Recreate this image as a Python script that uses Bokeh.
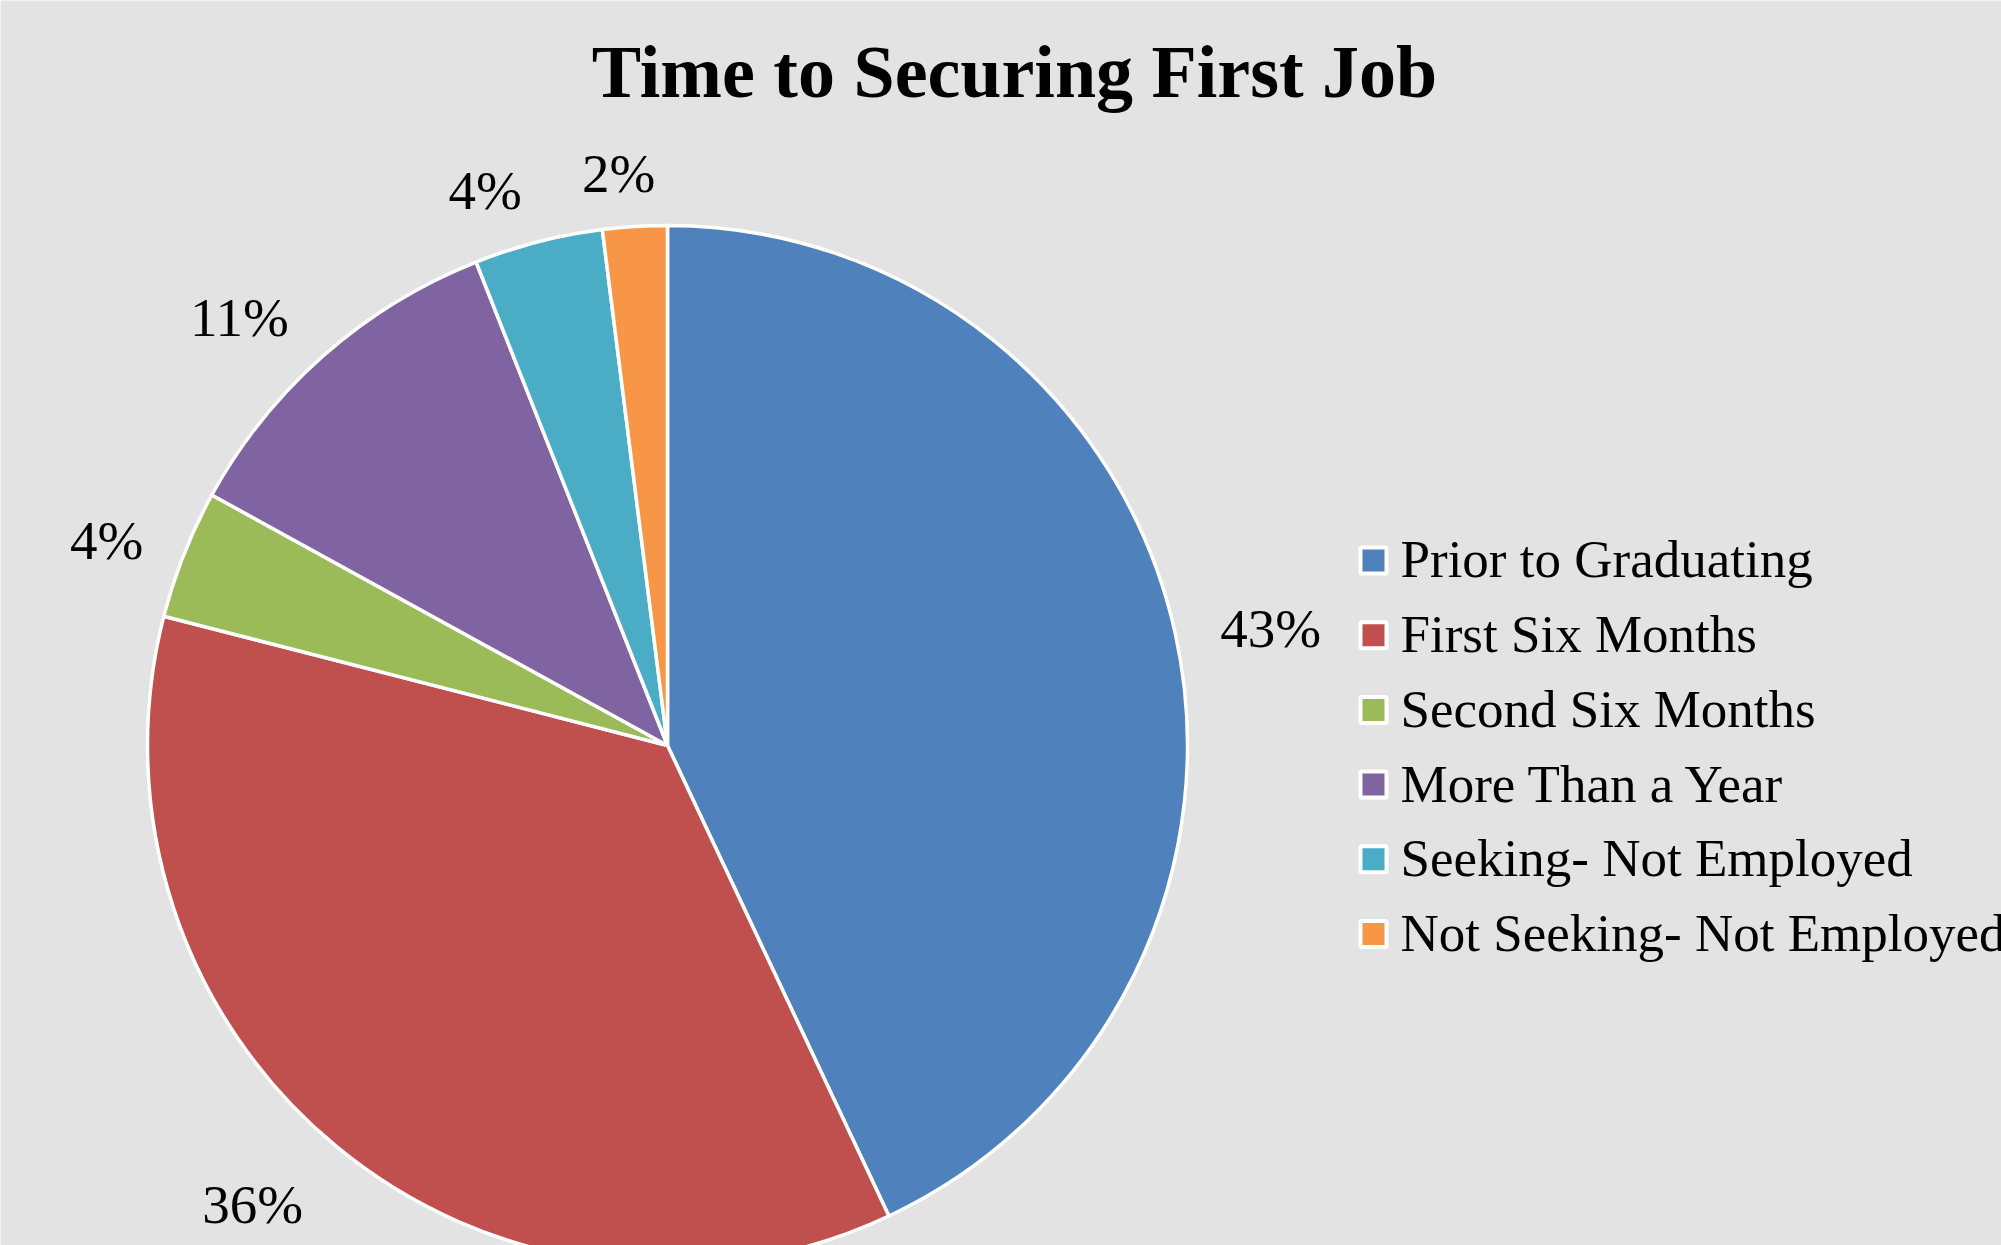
import numpy as np
from bokeh.plotting import figure
from bokeh.models import Range1d, ColumnDataSource
from bokeh.core.properties import value
from bokeh.embed import file_html
from bokeh.resources import INLINE

# ---- data ---------------------------------------------------------------
categories = [
    "Prior to Graduating",
    "First Six Months",
    "Second Six Months",
    "More Than a Year",
    "Seeking- Not Employed",
    "Not Seeking- Not Employed",
]
shares = [43, 36, 4, 11, 4, 2]
colors = ["#4F81BD", "#C0504D", "#9BBB59", "#8064A2", "#4BACC6", "#F79646"]
title_text = "Time to Securing First Job"

# ---- layout (pixels, measured from the top-left corner) -----------------
W, H = 2001, 1245
BG = "#E3E3E3"
FONT = "Liberation Serif"
CX, CY_TOP, RADIUS = 667, 745, 520
LABEL_FS = 55
LEGEND_FS = 53
TITLE_FS = 74
LEGEND_X, LEGEND_Y0, LEGEND_STEP = 1373, 560, 74.7
# the rendered alphabetic baseline lands a little below its anchor;
# lift every text by this fraction of its font size
LIFT = 0.34


def fy(y_top):
    """Convert a top-down pixel row into the upward data axis."""
    return H - y_top


CY = fy(CY_TOP)

vals = np.array(shares, dtype=float)
frac = vals / vals.sum()
cum = np.cumsum(frac)
start = np.pi / 2 - 2 * np.pi * (cum - frac)
end = np.pi / 2 - 2 * np.pi * cum
mid = (start + end) / 2

pie = ColumnDataSource(dict(cat=categories, share=shares, color=colors,
                            start=start, end=end))

p = figure(width=W, height=H, x_range=Range1d(0, W), y_range=Range1d(0, H),
           output_backend="svg", toolbar_location=None, min_border=0,
           x_axis_type=None, y_axis_type=None)
p.grid.visible = False
p.outline_line_color = None
p.background_fill_color = BG
p.border_fill_color = BG

p.wedge(x=CX, y=CY, radius=RADIUS, start_angle="start", end_angle="end",
        direction="clock", fill_color="color", line_color="white",
        line_width=3.5, source=pie)

# ---- percentage labels placed just outside each slice --------------------
labels = [f"{s:d}%" for s in shares]
gap = 36          # clearance between rim and label
drop = 10         # labels sit slightly below their radial spot
lx, ly = [], []
for lab, a in zip(labels, mid):
    ux, uy = np.cos(a), np.sin(a)
    ndig = len(lab) - 1
    half_w = LABEL_FS * (0.5 * ndig + 0.833) / 2
    half_h = LABEL_FS * 0.5
    dx = (RADIUS + gap) * ux + 1.2 * half_w * np.clip(ux / 0.2, -1, 1)
    dy = (RADIUS + gap + half_h) * uy - drop
    lx.append(CX + dx)
    ly.append(CY + dy - 0.338 * LABEL_FS + LIFT * LABEL_FS)

p.text(x=lx, y=ly, text=labels, text_font=value(FONT),
       text_font_size=f"{LABEL_FS}px", text_color="black",
       text_align="center", text_baseline="alphabetic")

# ---- legend ---------------------------------------------------------------
n = len(categories)
rows_y = [fy(LEGEND_Y0 + i * LEGEND_STEP) for i in range(n)]
leg = ColumnDataSource(dict(x=[LEGEND_X] * n, y=rows_y,
                            ty=[y - 17 + LIFT * LEGEND_FS for y in rows_y],
                            tx=[LEGEND_X + 27] * n,
                            cat=categories, color=colors))
p.rect(x="x", y="y", width=26, height=26, width_units="screen",
       height_units="screen", fill_color="color", line_color="white",
       line_width=4, source=leg)
p.text(x="tx", y="ty", text="cat", text_font=value(FONT),
       text_font_size=f"{LEGEND_FS}px", text_color="black",
       text_align="left", text_baseline="alphabetic", source=leg)

# ---- title ------------------------------------------------------------------
p.text(x=[1014], y=[fy(97) + LIFT * TITLE_FS], text=[title_text],
       text_font=value(FONT), text_font_size=f"{TITLE_FS}px",
       text_font_style="bold", text_color="black",
       text_align="center", text_baseline="alphabetic")

open("out.html", "w").write(file_html(p, INLINE))
